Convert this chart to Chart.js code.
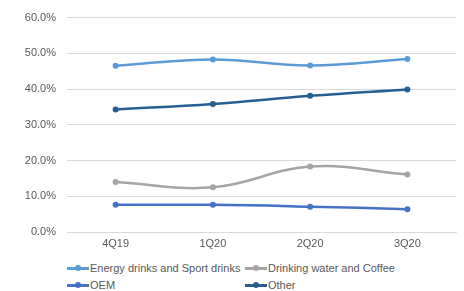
<!DOCTYPE html>
<html>
<head>
<meta charset="utf-8">
<script src="https://cdn.jsdelivr.net/npm/chart.js@4/dist/chart.umd.min.js"></script>
<style>
  body { margin:0; background:#fff; font-family:"Liberation Sans", Arial, sans-serif; }
  #wrap { position:relative; width:464px; height:291px; }
  #chartBox { position:absolute; left:0; top:0; width:464px; height:250px; }
  #legend { position:absolute; left:67px; top:260px; width:390px; font-size:11px; color:#595959; }
  .item { position:absolute; height:16px; line-height:16px; white-space:nowrap; }
  .mark { position:absolute; left:0; top:7px; width:22px; height:3px; }
  .dot { position:absolute; left:8px; top:-2px; width:6px; height:6px; border-radius:50%; }
  .lbl { position:absolute; left:23px; top:0; }
</style>
</head>
<body>
<div id="wrap">
  <div id="chartBox"><canvas id="shareChart"></canvas></div>
  <div id="legend"></div>
</div>
<script>
// categories and series (share of sales)
const quarters = ["4Q19", "1Q20", "2Q20", "3Q20"];
const energyDrinks = [46.5, 48.3, 46.6, 48.4];
const waterCoffee = [14.0, 12.5, 18.3, 16.1];
const oem = [7.6, 7.6, 7.1, 6.4];
const other = [34.3, 35.8, 38.1, 39.9];
const yTicks = [0, 10, 20, 30, 40, 50, 60];

const seriesNames = ["Energy drinks and Sport drinks", "Drinking water and Coffee", "OEM", "Other"];
const seriesColors = ["#5b9bd5", "#a5a5a5", "#4472c4", "#255e91"];
const seriesData = [energyDrinks, waterCoffee, oem, other];

// load chart
new Chart(
    document.getElementById('shareChart'),
    {
        type:'line',
        data:{
            labels:quarters,
            datasets:seriesData.map((d, i) => ({
                label:seriesNames[i],
                data:d,
                borderColor:seriesColors[i],
                backgroundColor:seriesColors[i],
                borderWidth:2.5,
                pointRadius:3,
                pointBorderWidth:0,
                pointHoverRadius:3,
                tension:0.4,
                fill:false
            }))
        },
        options:{
            responsive:true,
            maintainAspectRatio:false,
            animation:false,
            layout:{ padding:{ left:0, right:8, top:9, bottom:0 } },
            plugins:{
                legend:{ display:false },
                tooltip:{ enabled:false }
            },
            scales:{
                x:{
                    offset:true,
                    grid:{ display:false, drawTicks:false },
                    border:{ display:true, color:'#d9d9d9', width:1 },
                    ticks:{ color:'#595959', font:{ family:'"Liberation Sans", Arial', size:11 }, padding:5 },
                    afterFit:s => { s.height = 18; }
                },
                y:{
                    min:0,
                    max:60,
                    afterBuildTicks:s => { s.ticks = yTicks.map(v => ({ value:v })); },
                    grid:{ color:'#d9d9d9', lineWidth:1, drawTicks:false },
                    border:{ display:false },
                    ticks:{
                        color:'#595959',
                        font:{ family:'"Liberation Sans", Arial', size:11 },
                        padding:11,
                        callback:v => v.toFixed(1) + '%'
                    },
                    afterFit:s => { s.width = 67; }
                }
            }
        }
    }
);

// legend laid out in two columns like the original
const legend = document.getElementById('legend');
seriesNames.forEach((name, i) => {
    const item = document.createElement('div');
    item.className = 'item';
    item.style.left = (i % 2 === 0 ? 0 : 178) + 'px';
    item.style.top = (Math.floor(i / 2) * 17) + 'px';
    item.innerHTML =
        '<div class="mark" style="background:' + seriesColors[i] + '">' +
        '<div class="dot" style="background:' + seriesColors[i] + '"></div></div>' +
        '<span class="lbl">' + name + '</span>';
    legend.appendChild(item);
});
</script>
</body>
</html>
